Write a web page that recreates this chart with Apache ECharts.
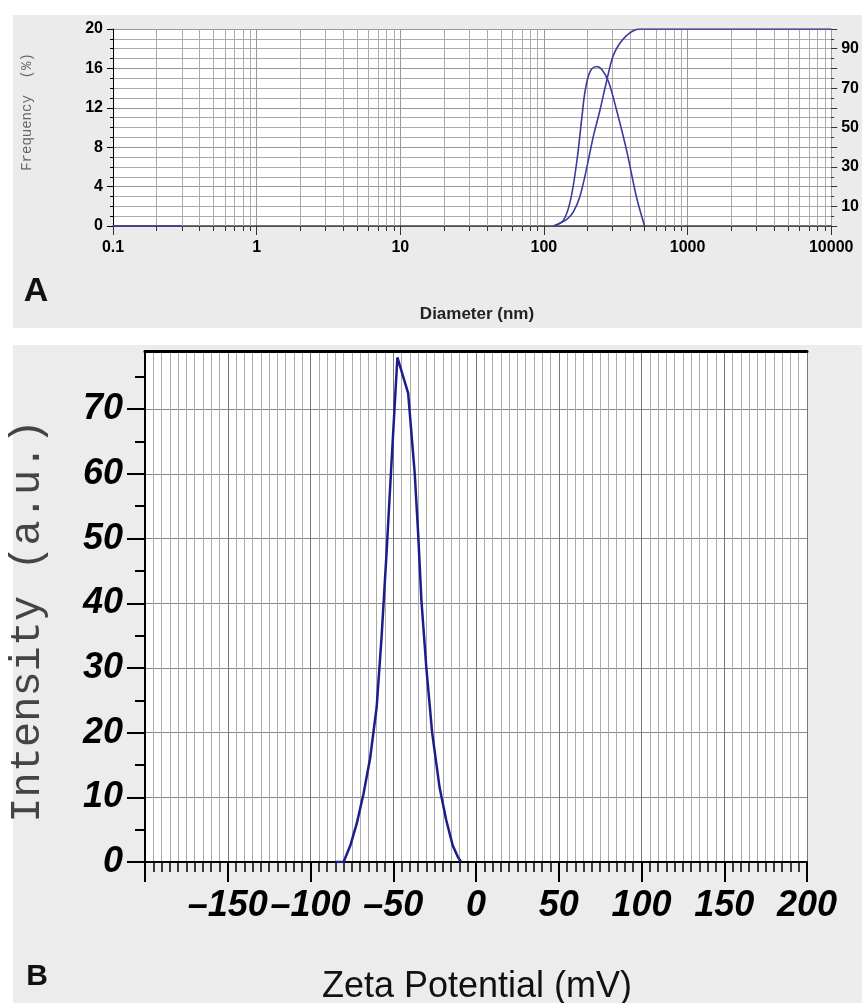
<!DOCTYPE html>
<html>
<head>
<meta charset="utf-8">
<script src="https://cdn.jsdelivr.net/npm/echarts@6/dist/echarts.min.js"></script>
<style>
html,body{margin:0;padding:0;background:#fff}
#chart{width:862px;height:1003px}
</style>
</head>
<body>
<div id="chart"></div>
<script>
// panel A - size distribution (log x)
var sizeNm     = [117, 137, 153, 170, 184, 194, 210, 233, 253, 281, 320, 376, 440, 502];
var frequency  = [0, 0.6, 2.6, 6.7, 11.1, 13.8, 15.7, 16.2, 15.9, 14.7, 11.8, 7.7, 3.0, 0];
var baseNm     = [0.1, 0.3];
var baseFreq   = [0, 0];
var cumNm      = [117, 130, 145, 160, 178, 198, 220, 245, 272, 302, 336, 374, 416, 463, 10000];
var cumulative = [0, 1.5, 3.5, 7, 15, 29, 45, 58.5, 73, 86, 92.5, 96.5, 99, 100, 100];
var decades    = [0.1, 1, 10, 100, 1000];
var cumLabels  = [10, 30, 50, 70, 90];

// panel B - zeta potential
var zetaMv    = [-85, -80, -76, -72, -68, -64, -60, -57, -54, -51, -47.5, -41, -37, -35, -33, -30, -26.5, -22, -18, -14, -11, -9];
var intensity = [0, 0, 2.5, 6, 10.5, 16, 24, 35, 48, 62, 78, 72.5, 60, 51, 40.5, 30, 20, 11.5, 6.5, 2.5, 0.8, 0];
var yMajor    = [0, 10, 20, 30, 40, 50, 60, 70];
var yMinor    = [5, 15, 25, 35, 45, 55, 65, 75];

function zip(a, b){
	var out = [];
	for(var i=0;i<a.length;i++){ out.push([a[i], b[i]]); }
	return out;
}

// minor gridlines 2..9 in each decade of the log axis
var minorVals = [];
for(var d=0; d<decades.length; d++){
	for(var m=2; m<=9; m++){
		minorVals.push([parseFloat((decades[d]*m).toPrecision(3)), 0]);
	}
}

var myChart = echarts.init(document.getElementById('chart'));
var lineA = '#3b3b9b';
var sans = '"Liberation Sans", Arial, sans-serif';

var option = {
	backgroundColor: '#fff',
	animation: false,
	graphic: [
		{type:'rect', z:-10, shape:{x:13, y:15, width:849, height:313}, style:{fill:'#ebebeb'}},
		{type:'rect', z:-10, shape:{x:13, y:345, width:849, height:658}, style:{fill:'#ececec'}},
		{type:'text', x:27, y:112, rotation:Math.PI/2,
			style:{text:'Frequency  (%)', font:'14px "Liberation Mono", monospace', fill:'#666', align:'center', verticalAlign:'middle'}},
		{type:'text', x:36, y:292,
			style:{text:'A', font:'bold 34px ' + sans, fill:'#111', align:'center', verticalAlign:'middle'}},
		{type:'text', x:477, y:314,
			style:{text:'Diameter (nm)', font:'bold 17px ' + sans, fill:'#222', align:'center', verticalAlign:'middle'}},
		{type:'text', x:28, y:621, rotation:Math.PI/2,
			style:{text:'Intensity (a.u.)', font:'42px "Liberation Mono", monospace', fill:'#444', align:'center', verticalAlign:'middle'}},
		{type:'text', x:37, y:977,
			style:{text:'B', font:'bold 30px ' + sans, fill:'#111', align:'center', verticalAlign:'middle'}},
		{type:'text', x:477, y:987,
			style:{text:'Zeta Potential (mV)', font:'36px ' + sans, fill:'#111', align:'center', verticalAlign:'middle'}}
	],
	grid: [
		{left:113, top:29, width:728, height:197, show:true, backgroundColor:'#fff', borderWidth:0},
		{left:145, top:351, width:662, height:511, show:true, backgroundColor:'#fff', borderWidth:0}
	],
	xAxis: [
		{
			gridIndex:0, type:'log', logBase:10, min:0.1, max:10000,
			axisLine:{lineStyle:{color:'#666', width:1}},
			axisTick:{show:true, length:9, lineStyle:{color:'#333'}},
			splitLine:{show:true, lineStyle:{color:'#999', width:1}},
			axisLabel:{color:'#000', fontWeight:'bold', fontSize:16, fontFamily:sans, margin:14,
				showMinLabel:true, showMaxLabel:true,
				formatter:function(v){ return String(+Number(v).toPrecision(6)); }}
		},
		{
			gridIndex:0, type:'value', position:'top', min:0, max:1,
			axisLine:{lineStyle:{color:'#444', width:1.5}},
			axisTick:{show:false}, axisLabel:{show:false}, splitLine:{show:false}
		},
		{
			gridIndex:1, type:'value', min:-200, max:200, interval:50,
			axisLine:{onZero:false, lineStyle:{color:'#000', width:2}},
			axisTick:{show:true, length:20, lineStyle:{color:'#000', width:2}},
			minorTick:{show:true, splitNumber:10, length:10, lineStyle:{color:'#000', width:1.5}},
			splitLine:{show:true, lineStyle:{color:'#777', width:1}},
			minorSplitLine:{show:true, lineStyle:{color:'#aaa', width:1}},
			axisLabel:{color:'#000', fontWeight:'bold', fontStyle:'italic', fontSize:36, fontFamily:sans, margin:26,
				formatter:function(v){
					if(v == -200) return '';
					return v < 0 ? '\u2013' + Math.abs(v) : String(v);
				}}
		},
		{
			gridIndex:1, type:'value', position:'top', min:-200, max:200,
			axisLine:{onZero:false, lineStyle:{color:'#000', width:3}},
			axisTick:{show:false}, axisLabel:{show:false}, splitLine:{show:false}
		}
	],
	yAxis: [
		{
			gridIndex:0, type:'value', min:0, max:20, interval:4,
			axisLine:{show:true, lineStyle:{color:'#000', width:1}},
			axisTick:{show:true, length:6, lineStyle:{color:'#000'}},
			minorTick:{show:true, splitNumber:4, length:3, lineStyle:{color:'#000'}},
			splitLine:{show:true, lineStyle:{color:'#999'}},
			minorSplitLine:{show:true, lineStyle:{color:'#aaa'}},
			axisLabel:{color:'#000', fontWeight:'bold', fontSize:16, fontFamily:sans, margin:10}
		},
		{
			gridIndex:0, type:'value', position:'right', min:0, max:100, interval:10,
			axisLine:{show:true, lineStyle:{color:'#999', width:1}},
			axisTick:{show:true, length:6, lineStyle:{color:'#333'}},
			minorTick:{show:true, splitNumber:2, length:3, lineStyle:{color:'#333'}},
			splitLine:{show:false},
			axisLabel:{color:'#000', fontWeight:'bold', fontSize:16, fontFamily:sans, margin:10,
				formatter:function(v){ return cumLabels.indexOf(v) >= 0 ? String(v) : ''; }}
		},
		{
			gridIndex:1, type:'value', position:'left', min:0, max:79, interval:5,
			axisLine:{show:true, onZero:false, lineStyle:{color:'#000', width:2}},
			axisTick:{show:true, length:18, customValues:yMajor, lineStyle:{color:'#000', width:2}},
			splitLine:{show:true, lineStyle:{color:'#888', width:1}},
			axisLabel:{color:'#000', fontWeight:'bold', fontStyle:'italic', fontSize:36, fontFamily:sans, margin:22,
				customValues:yMajor}
		},
		{
			gridIndex:1, type:'value', position:'left', offset:0, min:0, max:79,
			axisLine:{show:false, onZero:false},
			axisTick:{show:true, length:10, customValues:yMinor, lineStyle:{color:'#000', width:2}},
			splitLine:{show:false}, axisLabel:{show:false}
		}
	],
	series: [
		{
			type:'custom', xAxisIndex:0, yAxisIndex:0, clip:false, silent:true, z:1,
			data:minorVals,
			renderItem:function(params, api){
				var v = api.value(0);
				var bot = api.coord([v, 0]);
				var top = api.coord([v, 20]);
				var x = Math.round(bot[0]) + 0.5;
				return {type:'group', children:[
					{type:'line', shape:{x1:x, y1:top[1], x2:x, y2:bot[1]}, style:{stroke:'#aaa', lineWidth:1}},
					{type:'line', shape:{x1:x, y1:bot[1], x2:x, y2:bot[1]+5}, style:{stroke:'#333', lineWidth:1}}
				]};
			}
		},
		{
			name:'base', type:'line', xAxisIndex:0, yAxisIndex:0, z:3,
			data:zip(baseNm, baseFreq), symbol:'none',
			lineStyle:{color:lineA, width:1.5}
		},
		{
			name:'Frequency', type:'line', xAxisIndex:0, yAxisIndex:0, z:3,
			data:zip(sizeNm, frequency), symbol:'none', smooth:0.35,
			lineStyle:{color:lineA, width:1.6}
		},
		{
			name:'Cumulative', type:'line', xAxisIndex:0, yAxisIndex:1, z:3,
			data:zip(cumNm, cumulative), symbol:'none', smooth:0.3,
			lineStyle:{color:lineA, width:1.6}
		},
		{
			name:'Zeta', type:'line', xAxisIndex:2, yAxisIndex:2, z:3,
			data:zip(zetaMv, intensity), symbol:'none',
			lineStyle:{color:'#1c1c8a', width:2.5}
		}
	]
};
myChart.setOption(option);
</script>
</body>
</html>
